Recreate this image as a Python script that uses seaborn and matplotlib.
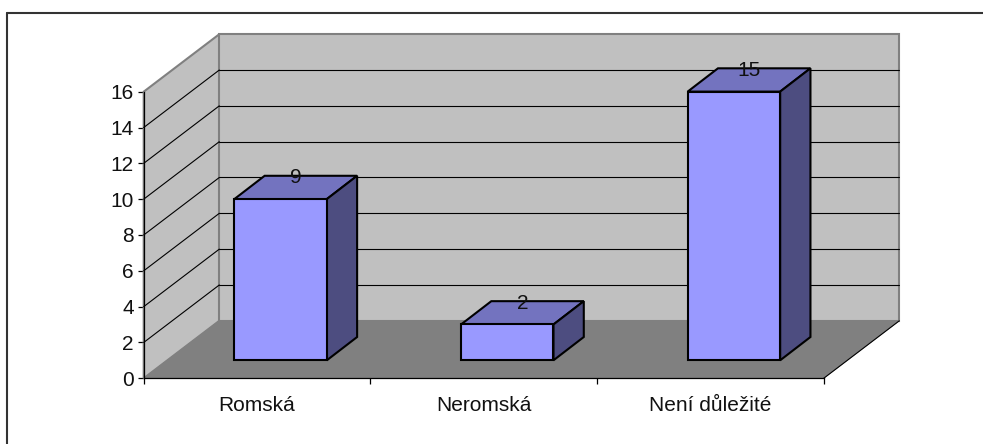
import matplotlib
matplotlib.use("Agg")
import matplotlib.pyplot as plt
import seaborn as sns
from matplotlib.colors import to_rgb
from matplotlib.lines import Line2D
from matplotlib.patches import Polygon
from matplotlib.transforms import Affine2D

categories = ["Romská", "Neromská", "Není důležité"]
values = [9, 2, 15]
y_ticks = [0, 2, 4, 6, 8, 10, 12, 14, 16]

W, H = 983, 444
sns.set_theme(style="white")
plt.rcParams["font.family"] = ["Liberation Sans", "DejaVu Sans"]

FRONT = "#9999FF"
TOP = "#7373BF"
SIDE = "#4D4D80"
WALL = "#C0C0C0"
FLOOR = "#808080"
FS = 15

fig = plt.figure(figsize=(W / 100, H / 100), dpi=100, facecolor="white")
left, right, y0, y16 = 143.7, 823.7, 378.3, 91.7
ax = fig.add_axes([left / W, 1 - y0 / H, (right - left) / W, (y0 - y16) / H])
ax.patch.set_visible(False)

sns.barplot(x=categories, y=values, color=FRONT, saturation=1, width=0.408,
            edgecolor="black", linewidth=1.5, ax=ax, zorder=5)
bars = list(ax.patches)
ax.set_xlim(-0.5, 2.5)
ax.set_ylim(y_ticks[0], y_ticks[-1])

# oblique projection, expressed in data units of the front plane
DX, DY = 75.6 / ((right - left) / 3), 57.5 / ((y0 - y16) / 16)
lo, hi = ax.get_ylim()
xl, xr = ax.get_xlim()

# outer chart frame: only the top and left edges fall inside the picture
frame = dict(color="#333333", linewidth=1.5, transform=fig.transFigure)
fig.add_artist(Line2D([7 / W, 1], [1 - 13 / H, 1 - 13 / H], **frame))
fig.add_artist(Line2D([7 / W, 7 / W], [0, 1 - 13 / H], **frame))

# walls and floor
wall_edge = dict(edgecolor=FLOOR, linewidth=1.5, clip_on=False, joinstyle="miter")
ax.add_patch(Polygon([(xl, lo), (xl + DX, lo + DY), (xl + DX, hi + DY), (xl, hi)],
                     facecolor=WALL, zorder=1, **wall_edge))
ax.add_patch(Polygon([(xl + DX, lo + DY), (xr + DX, lo + DY), (xr + DX, hi + DY), (xl + DX, hi + DY)],
                     facecolor=WALL, zorder=1, **wall_edge))
ax.add_patch(Polygon([(xl, lo), (xr, lo), (xr + DX, lo + DY), (xl + DX, lo + DY)],
                     facecolor=FLOOR, edgecolor=FLOOR, linewidth=0.5, clip_on=False, zorder=1))
ax.plot([xr, xr + DX], [lo, lo + DY], color="black", lw=0.8, clip_on=False, zorder=2)

# gridlines on both walls
for t in y_ticks[1:-1]:
    ax.plot([xl, xl + DX], [t, t + DY], color="black", lw=0.8, clip_on=False, zorder=2)
    ax.plot([xl + DX, xr + DX], [t + DY, t + DY], color="black", lw=0.8, clip_on=False, zorder=2)

# bars stand on the floor, part of the way into the depth
FX = 18.0 / 57.5 * DX * 0.995
FY = 18.0 / 57.5 * DY
shift = Affine2D().translate(FX, FY) + ax.transData
BX, BY = 30.3 / 75.6 * DX, 23.3 / 57.5 * DY
for bar, v in zip([p for p in bars if p.get_facecolor()[:3] == to_rgb(FRONT)], values):
    bar.set_transform(shift)
    bar.set_clip_on(False)
    bar.set_joinstyle("miter")
    x0, w = bar.get_x(), bar.get_width()
    h = bar.get_height()
    kw = dict(edgecolor="black", linewidth=1.5, clip_on=False, transform=shift, zorder=4, joinstyle="miter")
    ax.add_patch(Polygon([(x0, h), (x0 + w, h), (x0 + w + BX, h + BY), (x0 + BX, h + BY)], facecolor=TOP, **kw))
    ax.add_patch(Polygon([(x0 + w, 0), (x0 + w + BX, BY), (x0 + w + BX, h + BY), (x0 + w, h)], facecolor=SIDE, **kw))
    ax.text(x0 + w / 2 + BX / 2, h + BY, str(v), transform=shift, ha="center", va="center_baseline",
            fontsize=FS, color="#111111", zorder=6, clip_on=False)

# axes
for s in ["top", "right"]:
    ax.spines[s].set_visible(False)
for s in ["left", "bottom"]:
    ax.spines[s].set_color("black")
    ax.spines[s].set_linewidth(0.9)
    ax.spines[s].set_zorder(3)
ax.set_yticks(y_ticks)
ax.set_xticks([-0.5, 0.5, 1.5, 2.5], minor=True)
ax.tick_params(axis="y", which="major", left=True, length=4.2, width=0.9, color="black",
               labelsize=FS, labelcolor="#111111", pad=3)
ax.tick_params(axis="x", which="major", bottom=False, labelsize=FS, labelcolor="#111111", pad=7)
ax.tick_params(axis="x", which="minor", bottom=True, length=4, width=0.9, color="black")
for lab in ax.get_xticklabels():
    lab.set_x(lab.get_position()[0])

fig.savefig("out.png", dpi=100)
